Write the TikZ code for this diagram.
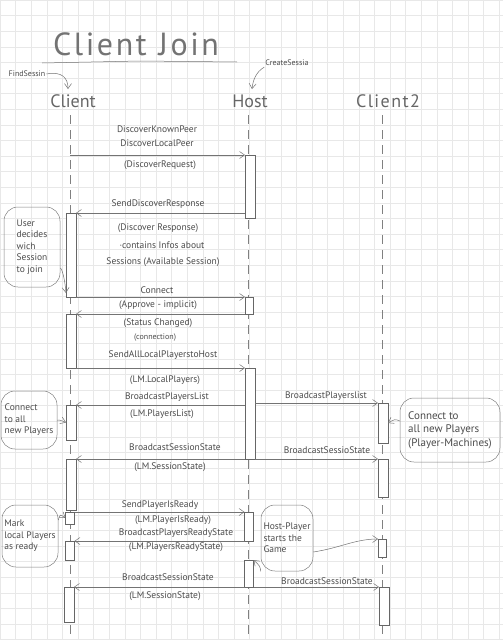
\documentclass[tikz,border=0pt]{standalone}
\usepackage{fontspec}
\setmainfont{PT Sans}
\usetikzlibrary{arrows.meta,calc}
\begin{document}
\begin{tikzpicture}[x=1pt,y=-1pt,
  pencil/.style={draw=black!55, line width=0.5pt},
  msg/.style={pencil, -{Straight Barb[length=5pt,width=7pt]}},
  life/.style={draw=black!50, line width=0.5pt, dash pattern=on 9pt off 6pt},
  act/.style={draw=black!60, fill=white, line width=0.5pt, minimum width=10pt, inner sep=0pt, outer sep=0pt, anchor=north},
  lbl/.style={text=black!70, font=\fontsize{9.5}{11}\selectfont, inner sep=1pt},
  small/.style={text=black!70, font=\fontsize{8}{9}\selectfont, inner sep=1pt},
  note/.style={draw=black!50, rounded corners=14pt, line width=0.5pt, text=black!70, font=\fontsize{9.5}{11.5}\selectfont, align=left, inner sep=2pt},
  head/.style={text=black!60, font=\fontsize{18}{21}\selectfont},
]
\useasboundingbox (0,0) rectangle (503,640);
\fill[white] (0,0) rectangle (503,640);
\draw[black!9, line width=0.4pt, step=15.6pt] (0,0) grid (503,640);

% title
\node[text=black!55, font=\fontsize{32}{36}\selectfont\addfontfeatures{LetterSpace=8}] (title) at (136,44) {Client\hspace{12pt}Join};
\draw[pencil] (42,63) -- (140,61) -- (237,62);

% participants
\node[head] (client) at (73,101) {Client};
\node[head] (host) at (250,101) {Host};
\node[head, font=\fontsize{18}{21}\selectfont\addfontfeatures{LetterSpace=8}] (client2) at (388,101) {Client2};

\node[small] (find) at (27,74) {FindSessin};
\coordinate (findtip) at (68,89);
\draw[msg] (find.east) .. controls (62,71) and (68,78) .. (findtip);
\node[small] (create) at (287,63) {CreateSessia};
\coordinate (createtip) at (252,89);
\draw[msg] (create.south west) .. controls (256,72) and (253,80) .. (createtip);

% lifelines
\coordinate (clt) at (70,115);   \coordinate (clb) at (70,640);
\coordinate (hlt) at (248,115);  \coordinate (hlb) at (248,640);
\coordinate (c2t) at (382,115);  \coordinate (c2b) at (382,640);
\draw[life] (clt) -- (clb);
\draw[life] (hlt) -- (hlb);
\draw[life] (c2t) -- (c2b);

% activations: client
\node[act, minimum height=84pt] (ca1) at (71,213) {};
\node[act, minimum height=54pt] (ca2) at (71,314) {};
\node[act, minimum height=35pt] (ca3) at (71,405) {};
\node[act, minimum height=51pt] (ca4) at (71,459) {};
\node[act, minimum height=12pt, minimum width=9pt] (ca5) at (70,512) {};
\node[act, minimum height=19pt, minimum width=9pt] (ca6) at (70,541) {};
\node[act, minimum height=35pt] (ca7) at (69,587) {};
% host
\node[act, minimum height=63pt] (ha1) at (250,155) {};
\node[act, minimum height=17pt, minimum width=8pt] (ha2) at (249,297) {};
\node[act, minimum height=91pt] (ha3) at (250,368) {};
\node[act, minimum height=29pt, minimum width=9pt] (ha4) at (249,512) {};
\node[act, minimum height=27pt, minimum width=9pt] (ha5) at (249,560) {};
% client2
\node[act, minimum height=40pt] (c2a1) at (383,403) {};
\node[act, minimum height=38pt] (c2a2) at (383,459) {};
\node[act, minimum height=18pt, minimum width=8pt] (c2a3) at (382,539) {};
\node[act, minimum height=38pt] (c2a4) at (384,587) {};

% messages
\draw[msg] (ha1.north west -| clt) -- (ha1.north west);
\node[lbl] (m1a) at (157,129) {DiscoverKnownPeer};
\node[lbl] (m1b) at (157,143) {DiscoverLocalPeer};
\node[lbl] (m1c) at (160,165) {(DiscoverRequest)};

\draw[msg] (ca1.north east -| ha1.west) -- (ca1.north east);
\node[lbl] (m2a) at (158,204) {SendDiscoverResponse};
\node[lbl] (m2b) at (158,228) {(Discover Response)};
\node[lbl] (m2c) at (162,245) {·contains Infos about};
\node[lbl] (m2d) at (163,262) {Sessions (Available Session)};

\draw[msg] (ca1.south east) -- (ha2.north west);
\node[lbl] (m3a) at (157,290) {Connect};

\draw[msg] (ha2.south west) -- (ca2.north east);
\node[lbl] (m4a) at (158,305) {(Approve - implicit)};
\node[lbl] (m4b) at (158,323) {(Status Changed)};
\node[small] (m4c) at (155,338) {(connection)};

\draw[msg] (ca2.south east) -- (ha3.north west);
\node[lbl] (m5a) at (163,355) {SendAllLocalPlayerstoHost};
\node[lbl] (m5b) at (165,380) {(LM.LocalPlayers)};

\draw[msg] (ca3.north east -| ha3.west) -- (ca3.north east);
\node[lbl] (m6a) at (167,397) {BroadcastPlayersList};
\node[lbl] (m6b) at (162,414) {(LM.PlayersList)};

\draw[msg] (c2a1.north west -| ha3.east) -- (c2a1.north west);
\node[lbl] (m7a) at (326,396) {BroadcastPlayerslist};

\draw[msg] (ha3.south west) -- (ca4.north east);
\node[lbl] (m8a) at (175,447) {BroadcastSessionState};
\node[lbl] (m8b) at (170,467) {(LM.SessionState)};

\draw[msg] (ha3.south east) -- (c2a2.north west);
\node[lbl] (m9a) at (327,450) {BroadcastSessioState};

\draw[msg] (ca5.north east) -- (ha4.north west);
\node[lbl] (m10a) at (160,505) {SendPlayerIsReady};
\node[lbl] (m10b) at (173,520) {(LM.PlayerIsReady)};

\draw[msg] (ha4.south west) -- (ca6.north east);
\node[lbl] (m11a) at (176,533) {BroadcastPlayersReadyState};
\node[lbl] (m11b) at (176,547) {(LM.PlayersReadyState)};

\draw[msg] (ha5.south west) -- (ca7.north east);
\node[lbl] (m12a) at (168,577) {BroadcastSessionState};
\node[lbl] (m12b) at (165,596) {(LM.SessionState)};

\draw[msg] (ha5.south east) -- (c2a4.north west);
\node[lbl] (m13a) at (327,581) {BroadcastSessionState};

% notes
\node[note, minimum width=56pt, minimum height=80pt] (n1) at (32,247) {User\\decides\\wich\\Session\\to join};
\coordinate (n1tip) at ($(ca1.south west)+(0,-4)$);
\draw[msg] (n1.east |- 0,268) .. controls (62,268) and (65,280) .. (n1tip);

\node[note, minimum width=56pt, minimum height=58pt] (n2) at (29,420) {Connect\\to all\\new Players};
\draw[msg] (n2.east) .. controls (60,420) .. (ca3.west);

\node[note, minimum width=100pt, minimum height=64pt, font=\fontsize{11}{13.5}\selectfont] (n3) at (450,430) {Connect to\\all new Players\\(Player-Machines)};
\draw[msg] (n3.west |- 0,421) .. controls (395,419) .. (c2a1.east);

\node[note, minimum width=56pt, minimum height=62pt] (n4) at (30,536) {Mark\\local Players\\as ready};
\draw[msg] (n4.east |- 0,520) .. controls (60,514) .. (ca5.west);

\node[note, minimum width=52pt, minimum height=66pt] (n5) at (287,538) {Host-Player\\starts the\\Game};
\draw[msg] (n5.south west) .. controls (260,566) .. (ha5.north east);
\draw[msg] (n5.east |- 0,552) .. controls (340,548) and (355,539) .. (c2a3.north west);
\end{tikzpicture}
\end{document}
